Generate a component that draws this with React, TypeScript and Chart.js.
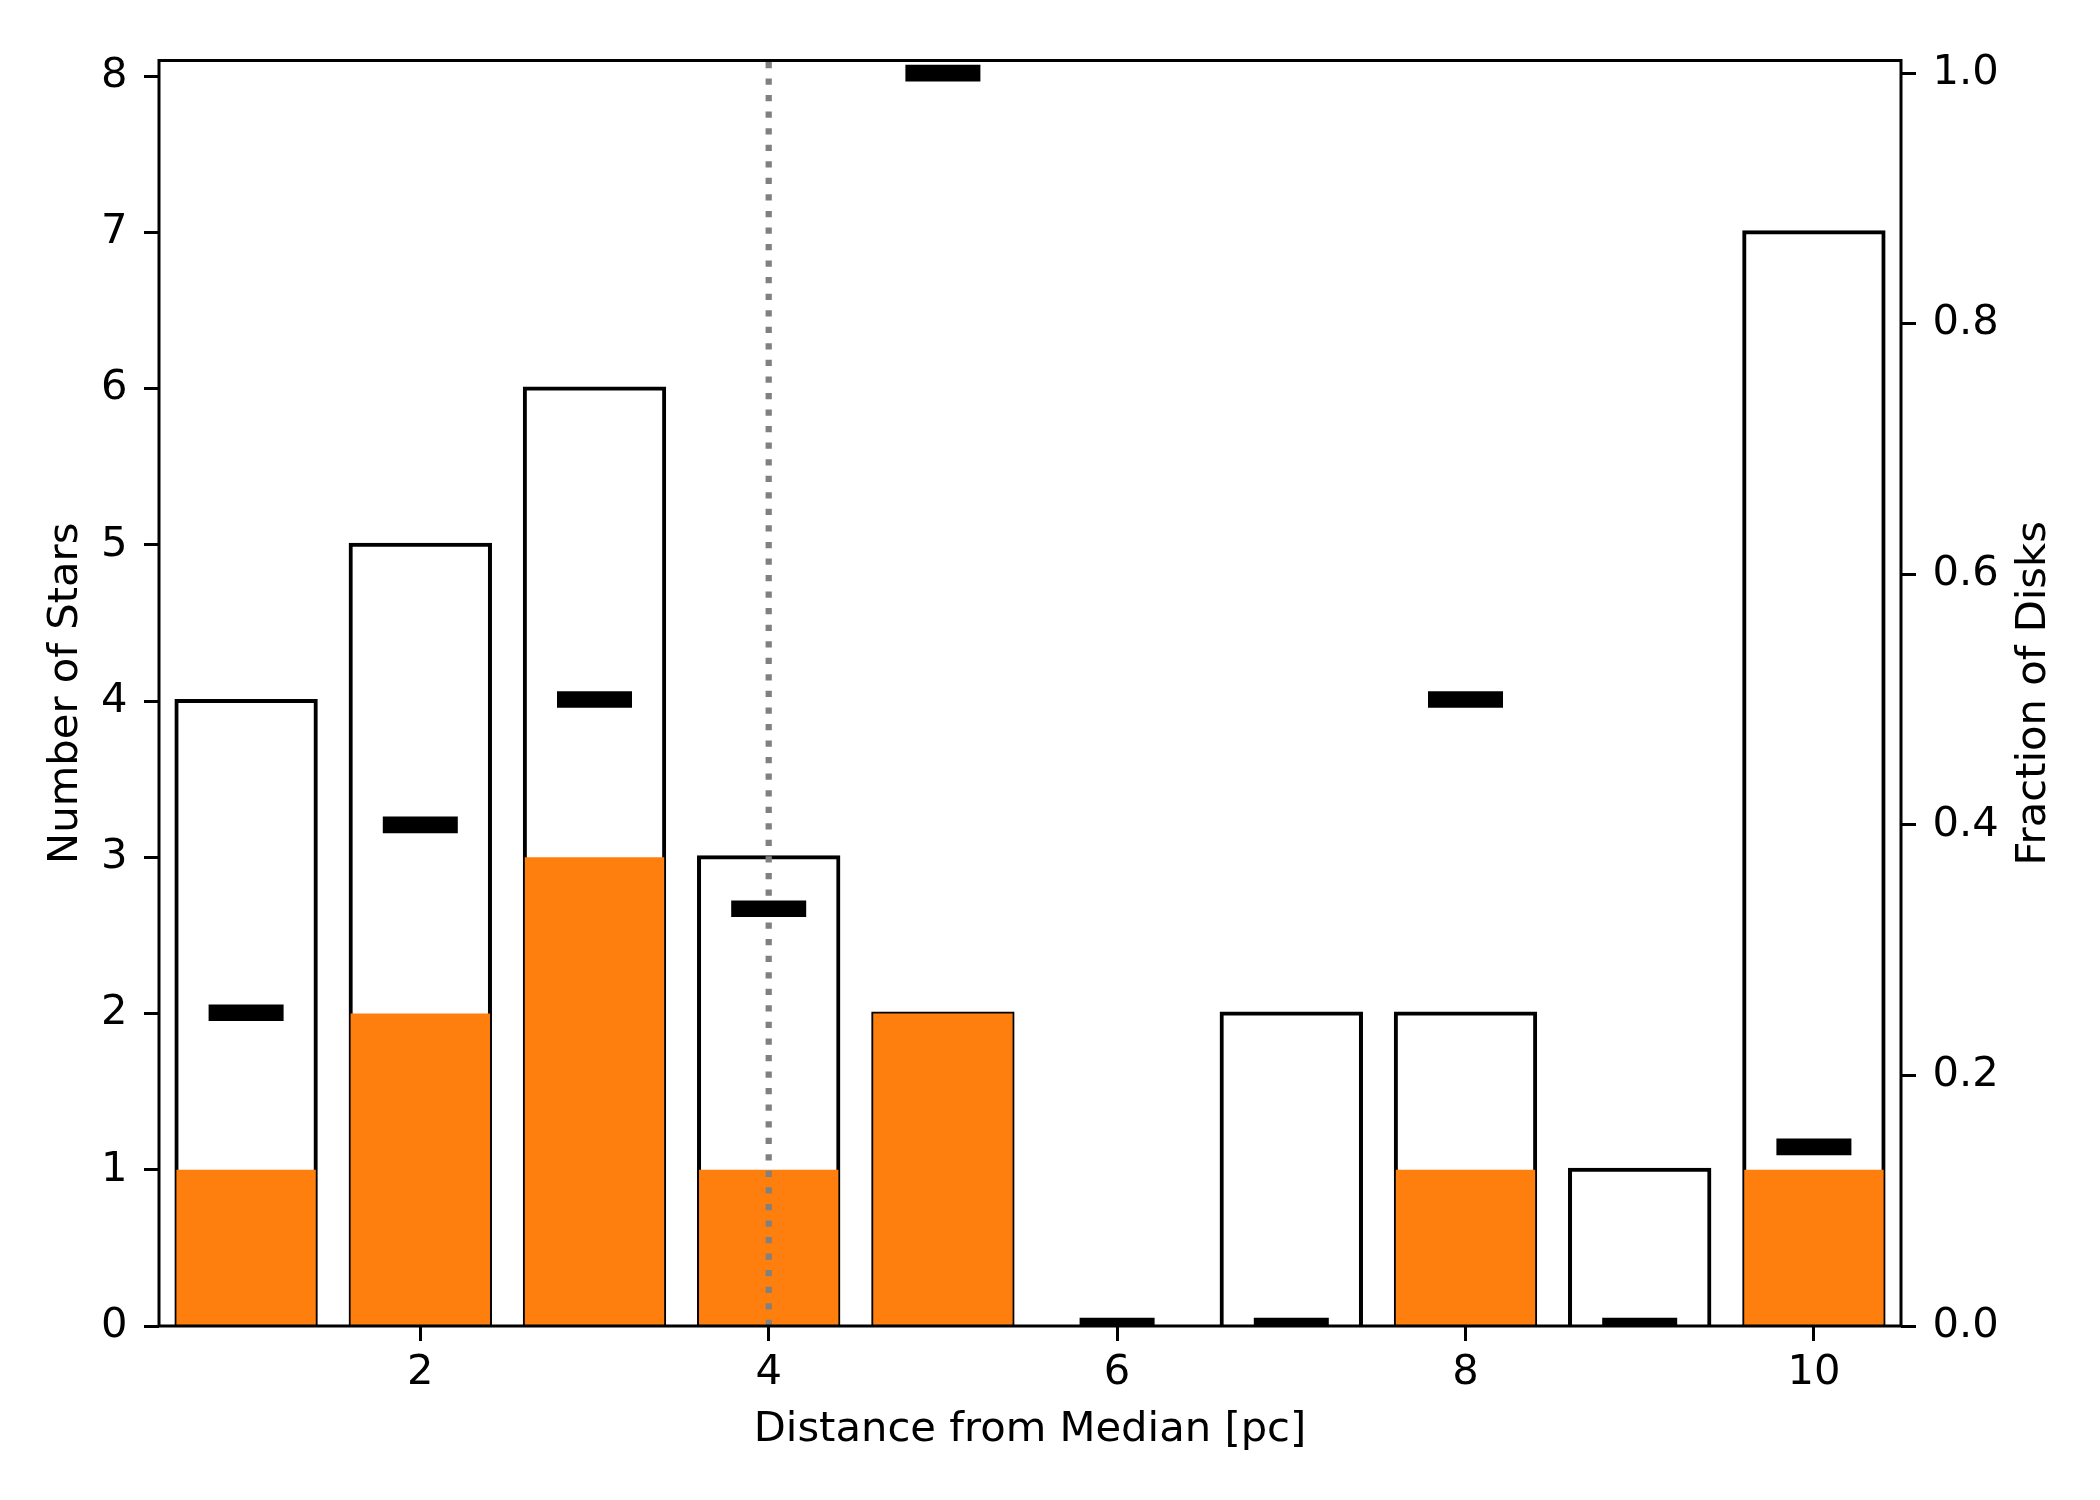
import { useEffect, useRef } from 'react';
import { Chart, registerables } from 'chart.js';

Chart.register(...registerables);

// bins of distance from the median [pc]
const BINS = [1, 2, 3, 4, 5, 6, 7, 8, 9, 10];
const ALL_STARS = [4, 5, 6, 3, 2, 0, 2, 2, 1, 7];
const DISK_STARS = [1, 2, 3, 1, 2, 0, 0, 1, 0, 1];
const DISK_FRACTION = [0.25, 0.4, 0.5, 0.333, 1.0, 0, 0, 0.5, 0, 0.143];
const MEDIAN_X = 4;

const X_TICKS = [2, 4, 6, 8, 10];
const STAR_TICKS = [0, 1, 2, 3, 4, 5, 6, 7, 8];
const FRACTION_TICKS = [0, 0.2, 0.4, 0.6, 0.8, 1.0];

const FONT = 'DejaVu Sans';
const SIZE = 41.7;
const ORANGE = '#ff7f0e';

const tickGrid = {
  display: true,
  drawOnChartArea: false,
  drawTicks: true,
  tickLength: 15,
  tickWidth: 3,
  tickColor: '#000',
  color: '#000',
  offset: false,
};

const overlay = {
  id: 'overlay',
  afterDatasetDraw(chart: any, args: any) {
    // dotted median line goes right after the orange bars
    if (args.index !== 1) return;
    const { ctx, chartArea } = chart;
    const x = chart.scales.x.getPixelForValue(MEDIAN_X);
    ctx.save();
    ctx.beginPath();
    ctx.rect(chartArea.left, chartArea.top, chartArea.width, chartArea.height);
    ctx.clip();
    ctx.strokeStyle = '#808080';
    ctx.lineWidth = 6.25;
    ctx.lineCap = 'butt';
    ctx.setLineDash([6.25, 10.3]);
    ctx.beginPath();
    ctx.moveTo(x, chartArea.bottom);
    ctx.lineTo(x, chartArea.top);
    ctx.stroke();
    ctx.restore();
  },
  afterDraw(chart: any) {
    const { ctx, chartArea } = chart;
    ctx.save();
    ctx.strokeStyle = '#000';
    ctx.lineWidth = 3;
    ctx.strokeRect(chartArea.left, chartArea.top, chartArea.width, chartArea.height);
    // right axis label reads bottom to top, like the left one
    ctx.translate(chartArea.right + 144, (chartArea.top + chartArea.bottom) / 2);
    ctx.rotate(-Math.PI / 2);
    ctx.font = `${SIZE}px "${FONT}"`;
    ctx.fillStyle = '#000';
    ctx.textAlign = 'center';
    ctx.textBaseline = 'alphabetic';
    ctx.fillText('Fraction of Disks', 0, 0);
    ctx.restore();
  },
};

export default function App() {
  const chartRef = useRef<HTMLCanvasElement>(null);

  useEffect(() => {
    document.body.style.margin = '0';
    if (!chartRef.current) return;

    Chart.defaults.font.family = FONT;
    Chart.defaults.font.size = SIZE;
    Chart.defaults.color = '#000';

    const chart = new Chart(chartRef.current, {
      type: 'bar',
      data: {
        datasets: [
          {
            label: 'All stars',
            data: BINS.map((x, i) => ({ x, y: ALL_STARS[i] })),
            backgroundColor: '#fff',
            borderColor: '#000',
            borderWidth: 4,
            borderSkipped: 'start',
            inflateAmount: 2,
            barPercentage: 0.8,
            categoryPercentage: 1,
            grouped: false,
            clip: 0,
            order: 2,
          },
          {
            label: 'Disks',
            data: BINS.map((x, i) => ({ x, y: DISK_STARS[i] })),
            backgroundColor: ORANGE,
            borderWidth: 0,
            inflateAmount: 0,
            barPercentage: 0.8,
            categoryPercentage: 1,
            grouped: false,
            clip: 0,
            order: 1,
          },
          {
            type: 'scatter',
            label: 'Fraction',
            data: BINS.map((x, i) => ({ x, y: DISK_FRACTION[i] })),
            yAxisID: 'y1',
            pointStyle: 'line',
            pointRadius: 37.5,
            pointBorderWidth: 16.7,
            pointBorderColor: '#000',
            pointBackgroundColor: '#000',
            showLine: false,
            clip: 0,
            order: 0,
          } as any,
        ],
      },
      options: {
        responsive: false,
        devicePixelRatio: 1,
        animation: false,
        events: [],
        layout: { padding: { top: 60.5, left: 0, right: 0, bottom: 0 } },
        plugins: {
          legend: { display: false },
          tooltip: { enabled: false },
        },
        scales: {
          x: {
            type: 'linear',
            min: 0.5,
            max: 10.5,
            offset: false,
            afterBuildTicks: (s: any) => { s.ticks = X_TICKS.map((value) => ({ value })); },
            afterFit: (s: any) => { s.height = 174; },
            grid: tickGrid,
            border: { display: false },
            ticks: { padding: 7.5, maxRotation: 0, autoSkip: false, callback: (v: any) => String(v) },
            title: {
              display: true,
              text: 'Distance from Median [pc]',
              padding: { top: 0, bottom: 44.5 },
            },
          },
          y: {
            type: 'linear',
            position: 'left',
            min: 0,
            max: 8.1,
            afterBuildTicks: (s: any) => { s.ticks = STAR_TICKS.map((value) => ({ value })); },
            afterFit: (s: any) => { s.width = 159; },
            grid: tickGrid,
            border: { display: false },
            ticks: { padding: 16.5, callback: (v: any) => String(v) },
            title: {
              display: true,
              text: 'Number of Stars',
              padding: { top: 41, bottom: 0 },
            },
          },
          y1: {
            type: 'linear',
            position: 'right',
            min: 0,
            max: 1.01,
            afterBuildTicks: (s: any) => { s.ticks = FRACTION_TICKS.map((value) => ({ value })); },
            afterFit: (s: any) => { s.width = 199; },
            grid: tickGrid,
            border: { display: false },
            ticks: { padding: 16.5, callback: (v: any) => Number(v).toFixed(1) },
          },
        },
      } as any,
      plugins: [overlay],
    });

    return () => {
      chart.destroy();
    };
  }, []);

  return (
    <div style={{ width: 2100, height: 1500, background: '#fff' }}>
      <canvas ref={chartRef} width={2100} height={1500} style={{ display: 'block' }} />
    </div>
  );
}
